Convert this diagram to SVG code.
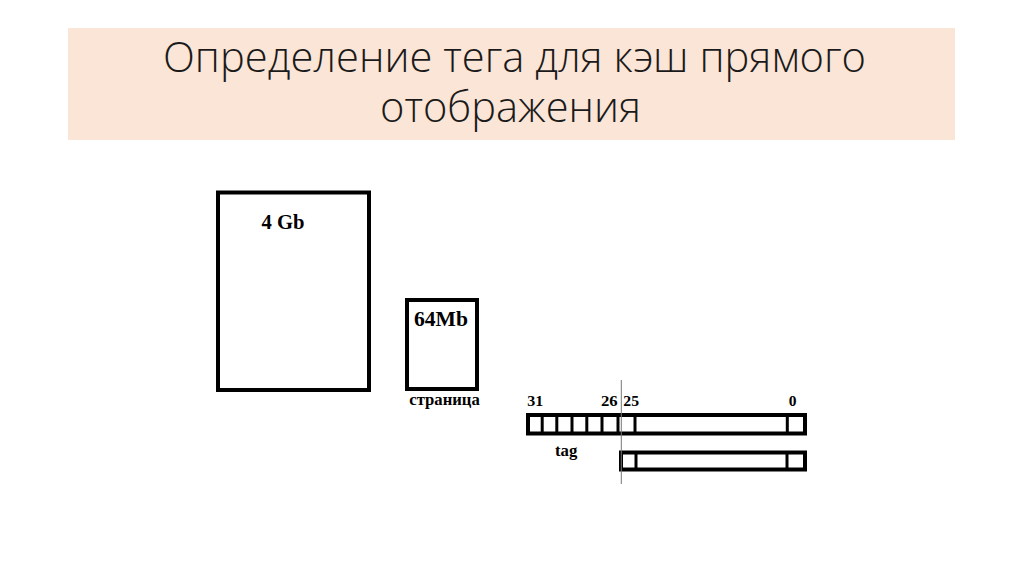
<svg xmlns="http://www.w3.org/2000/svg" width="1024" height="574" viewBox="0 0 1024 574">
<style>
.title{font-family:"Open Sans","Noto Sans",sans-serif;font-weight:300;font-size:42px;fill:#1a1a1a;text-anchor:middle}
.lbl{font-family:"Liberation Serif",serif;font-weight:bold;fill:#000}
.box{fill:#fff;stroke:#000;stroke-width:4}
.bar{fill:#fff;stroke:#000;stroke-width:4}
.div{stroke:#000;stroke-width:3}
</style>
<rect width="1024" height="574" fill="#fff"/>
<g id="title">
<rect x="68" y="28" width="887" height="112" fill="#FBE5D6"/>
<text class="title" x="514.5" y="71.5" textLength="703" lengthAdjust="spacingAndGlyphs">Определение тега для кэш прямого</text>
<text class="title" x="510.5" y="122" textLength="261" lengthAdjust="spacingAndGlyphs">отображения</text>
</g>
<g id="memory">
<rect class="box" x="218" y="192.5" width="151" height="197.5"/>
<text class="lbl" x="261.5" y="229" font-size="21" textLength="43" lengthAdjust="spacingAndGlyphs">4 Gb</text>
</g>
<g id="page">
<rect class="box" x="407" y="300" width="70" height="89"/>
<text class="lbl" x="414" y="325.7" font-size="21.5" textLength="54" lengthAdjust="spacingAndGlyphs">64Mb</text>
<text class="lbl" x="409.3" y="405" font-size="17" textLength="70.5" lengthAdjust="spacingAndGlyphs">страница</text>
</g>
<g id="address">
<rect class="bar" x="528" y="415" width="277" height="18.5"/>
<line class="div" x1="542.2" y1="415" x2="542.2" y2="433.5"/>
<line class="div" x1="556.8" y1="415" x2="556.8" y2="433.5"/>
<line class="div" x1="572" y1="415" x2="572" y2="433.5"/>
<line class="div" x1="586.8" y1="415" x2="586.8" y2="433.5"/>
<line class="div" x1="602" y1="415" x2="602" y2="433.5"/>
<line class="div" x1="618" y1="415" x2="618" y2="433.5"/>
<line class="div" x1="635" y1="415" x2="635" y2="433.5"/>
<line class="div" x1="787.3" y1="415" x2="787.3" y2="433.5"/>
<text class="lbl" x="527.3" y="405.7" font-size="15.5" textLength="16" lengthAdjust="spacingAndGlyphs">31</text>
<text class="lbl" x="601" y="405.7" font-size="15.5" textLength="16.7" lengthAdjust="spacingAndGlyphs">26</text>
<text class="lbl" x="623.3" y="405.7" font-size="15.5" textLength="15.7" lengthAdjust="spacingAndGlyphs">25</text>
<text class="lbl" x="788.7" y="405.7" font-size="15.5">0</text>
<text class="lbl" x="555" y="456" font-size="16" textLength="22.3" lengthAdjust="spacingAndGlyphs">tag</text>
</g>
<g id="cache-line">
<rect class="bar" x="621" y="452.5" width="184" height="17"/>
<line class="div" x1="636" y1="452.5" x2="636" y2="469.5"/>
<line class="div" x1="787" y1="452.5" x2="787" y2="469.5"/>
</g>
<g id="connectors">
<line x1="621.3" y1="380" x2="621.3" y2="484" stroke="#777" stroke-width="1"/>
</g>
</svg>
